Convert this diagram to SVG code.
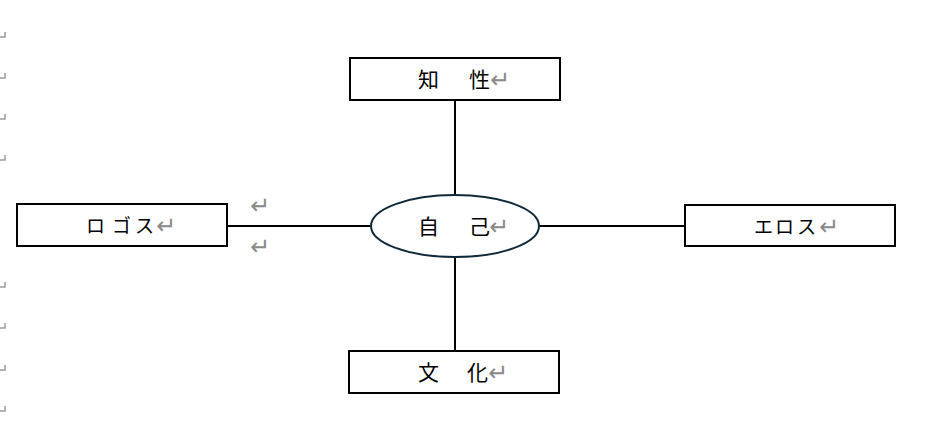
<svg xmlns="http://www.w3.org/2000/svg" width="926" height="437" viewBox="0 0 926 437">
<style>
.box{fill:#fff;stroke:#000;stroke-width:2}
.conn{stroke:#000;stroke-width:2;fill:none}
.t{font-family:"Noto Sans CJK JP","Noto Sans CJK SC",sans-serif;fill:#000}
.k{font-size:21px}
.kana{font-size:19px}
.ret{font-family:"DejaVu Sans",sans-serif;font-size:24px;fill:#8a8a8a}
.mark{stroke:#9a9a9a;stroke-width:1.5;fill:none}
</style>
<rect width="926" height="437" fill="#fff"/>
<g id="margin-marks">
<path class="mark" d="M5,32V37H0M5,73V78H0M5,114V119H0M5,155V160H0M5,282V287H0M5,323V328H0M5,365V370H0M5,406V411H0"/>
</g>
<g id="connectors">
<line class="conn" x1="455" y1="100" x2="455" y2="195"/>
<line class="conn" x1="455" y1="258" x2="455" y2="351"/>
<line class="conn" x1="227" y1="226" x2="371" y2="226"/>
<line class="conn" x1="539" y1="226" x2="685" y2="226"/>
</g>
<g id="node-chisei">
<rect class="box" x="350" y="58" width="210" height="42"/>
<text class="t k" x="418" y="87">知</text>
<text class="t k" x="469" y="87">性</text>
<text class="ret" x="490" y="88">↵</text>
</g>
<g id="node-logos">
<rect class="box" x="17" y="204" width="210" height="42"/>
<text class="t kana" x="86" y="233">ロ</text>
<text class="t kana" x="112" y="233">ゴ</text>
<text class="t kana" x="135" y="233">ス</text>
<text class="ret" x="156" y="234">↵</text>
</g>
<g id="node-jiko">
<ellipse cx="455" cy="226" rx="84" ry="31" fill="#fff" stroke="#0e2a3a" stroke-width="2"/>
<text class="t k" x="418" y="234">自</text>
<text class="t k" x="469" y="234">己</text>
<text class="ret" x="489" y="235">↵</text>
</g>
<g id="node-eros">
<rect class="box" x="685" y="205" width="210" height="41"/>
<text class="t kana" x="754" y="234">エ</text>
<text class="t kana" x="775" y="234">ロ</text>
<text class="t kana" x="797" y="234">ス</text>
<text class="ret" x="819" y="235">↵</text>
</g>
<g id="node-bunka">
<rect class="box" x="349" y="351" width="210" height="42"/>
<text class="t k" x="418" y="380">文</text>
<text class="t k" x="467" y="380">化</text>
<text class="ret" x="488" y="381">↵</text>
</g>
<g id="extra-returns">
<text class="ret" x="250" y="214">↵</text>
<text class="ret" x="250" y="255">↵</text>
</g>
</svg>
